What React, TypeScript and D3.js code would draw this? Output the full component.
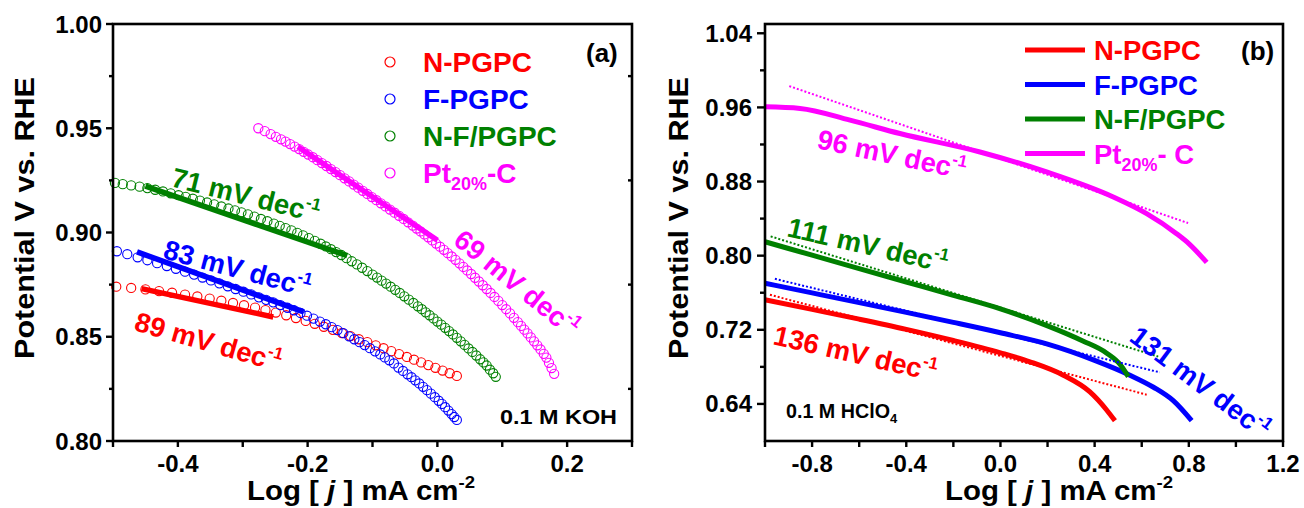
import React from "react";
import * as d3 from "d3";

const W = 1304;
const H = 508;
const FONT = "Arial, 'Liberation Sans', Helvetica, sans-serif";

const COLORS = ["#ff0000", "#0000ff", "#008000", "#ff00ff"];
const NAMES = ["N-PGPC", "F-PGPC", "N-F/PGPC"];

// ---------- Panel (a): 0.1 M KOH, Tafel data (open circles) ----------
const aNPGPC_x = [-0.495, -0.472, -0.45, -0.429, -0.409, -0.389, -0.37, -0.351, -0.333, -0.315, -0.298, -0.281, -0.265, -0.249, -0.233, -0.218, -0.203, -0.189, -0.175, -0.161, -0.147, -0.134, -0.121, -0.108, -0.095, -0.083, -0.071, -0.059, -0.047, -0.036, -0.025, -0.014, -0.003, 0.008, 0.019, 0.03];
const aNPGPC_y = [0.874, 0.8734, 0.8727, 0.8719, 0.8711, 0.8702, 0.8693, 0.8683, 0.8673, 0.8662, 0.8651, 0.864, 0.8628, 0.8616, 0.8603, 0.859, 0.8576, 0.8562, 0.8548, 0.8533, 0.8518, 0.8503, 0.8488, 0.8474, 0.8459, 0.8445, 0.8431, 0.8417, 0.8403, 0.839, 0.8377, 0.8364, 0.8351, 0.8338, 0.8325, 0.8312];

const aFPGPC_x = [-0.494, -0.478, -0.462, -0.447, -0.432, -0.417, -0.403, -0.389, -0.375, -0.362, -0.349, -0.336, -0.323, -0.311, -0.299, -0.287, -0.275, -0.264, -0.253, -0.242, -0.231, -0.221, -0.211, -0.201, -0.191, -0.181, -0.172, -0.163, -0.154, -0.145, -0.136, -0.128, -0.12, -0.112, -0.104, -0.096, -0.088, -0.081, -0.074, -0.067, -0.06, -0.053, -0.046, -0.04, -0.034, -0.028, -0.022, -0.016, -0.01, -0.004, 0.002, 0.007, 0.012, 0.017, 0.022, 0.026, 0.03];
const aFPGPC_y = [0.891, 0.8896, 0.8881, 0.8867, 0.8853, 0.8839, 0.8826, 0.8812, 0.8798, 0.8784, 0.877, 0.8756, 0.8742, 0.8729, 0.8716, 0.8703, 0.8689, 0.8677, 0.8665, 0.8652, 0.8639, 0.8627, 0.8614, 0.8601, 0.8587, 0.8573, 0.856, 0.8546, 0.8532, 0.8517, 0.8502, 0.8488, 0.8474, 0.846, 0.8445, 0.843, 0.8415, 0.8401, 0.8387, 0.8372, 0.8352, 0.8336, 0.832, 0.8306, 0.8291, 0.8276, 0.826, 0.8244, 0.8227, 0.821, 0.8193, 0.8178, 0.8162, 0.8146, 0.8129, 0.8115, 0.8101];

const aNFPGPC_x = [-0.497, -0.485, -0.472, -0.459, -0.447, -0.435, -0.423, -0.411, -0.399, -0.388, -0.377, -0.366, -0.355, -0.344, -0.333, -0.322, -0.312, -0.302, -0.292, -0.282, -0.272, -0.262, -0.252, -0.243, -0.234, -0.225, -0.216, -0.207, -0.198, -0.189, -0.18, -0.172, -0.164, -0.156, -0.148, -0.14, -0.132, -0.124, -0.116, -0.108, -0.1, -0.093, -0.086, -0.079, -0.072, -0.065, -0.058, -0.051, -0.044, -0.037, -0.03, -0.024, -0.018, -0.012, -0.006, 0.0, 0.006, 0.012, 0.018, 0.024, 0.03, 0.036, 0.042, 0.048, 0.054, 0.06, 0.066, 0.071, 0.076, 0.081, 0.086, 0.09];
const aNFPGPC_y = [0.9238, 0.9232, 0.9226, 0.922, 0.9213, 0.9205, 0.9197, 0.9188, 0.9179, 0.9171, 0.9162, 0.9153, 0.9144, 0.9135, 0.9125, 0.9115, 0.9106, 0.9097, 0.9087, 0.9076, 0.9065, 0.9054, 0.9043, 0.9032, 0.9021, 0.901, 0.8998, 0.8986, 0.8973, 0.896, 0.8946, 0.8933, 0.892, 0.8906, 0.8892, 0.8877, 0.8862, 0.8847, 0.8831, 0.8815, 0.8798, 0.8784, 0.8769, 0.8755, 0.874, 0.8725, 0.871, 0.8694, 0.8678, 0.8662, 0.8646, 0.8632, 0.8617, 0.8603, 0.8588, 0.8573, 0.8558, 0.8543, 0.8527, 0.8511, 0.8495, 0.8478, 0.8461, 0.8444, 0.8427, 0.841, 0.8392, 0.8377, 0.8362, 0.8342, 0.8325, 0.8308];

const aPt_x = [-0.276, -0.266, -0.257, -0.249, -0.241, -0.234, -0.227, -0.22, -0.213, -0.206, -0.199, -0.192, -0.185, -0.178, -0.171, -0.164, -0.157, -0.15, -0.143, -0.136, -0.129, -0.122, -0.115, -0.108, -0.101, -0.094, -0.087, -0.08, -0.073, -0.066, -0.059, -0.052, -0.045, -0.038, -0.032, -0.026, -0.02, -0.014, -0.008, -0.002, 0.004, 0.01, 0.016, 0.022, 0.028, 0.034, 0.04, 0.046, 0.052, 0.058, 0.064, 0.07, 0.076, 0.082, 0.088, 0.094, 0.1, 0.106, 0.112, 0.118, 0.124, 0.129, 0.134, 0.139, 0.144, 0.149, 0.154, 0.159, 0.164, 0.168, 0.172, 0.176, 0.18];
const aPt_y = [0.95, 0.9486, 0.9472, 0.9459, 0.9447, 0.9436, 0.9424, 0.9412, 0.94, 0.9387, 0.9374, 0.9361, 0.9347, 0.9333, 0.9319, 0.9304, 0.929, 0.9275, 0.926, 0.9245, 0.923, 0.9215, 0.92, 0.9185, 0.917, 0.9155, 0.914, 0.9125, 0.911, 0.9095, 0.908, 0.9065, 0.9049, 0.9033, 0.9019, 0.9005, 0.8991, 0.8977, 0.8962, 0.8947, 0.8932, 0.8917, 0.8901, 0.8885, 0.8869, 0.8852, 0.8835, 0.8818, 0.8801, 0.8783, 0.8765, 0.8747, 0.8729, 0.871, 0.8691, 0.8672, 0.8652, 0.8632, 0.8612, 0.8591, 0.857, 0.8552, 0.8534, 0.8516, 0.8497, 0.8478, 0.8459, 0.8439, 0.8418, 0.84, 0.8375, 0.835, 0.8322];

// Linear Tafel fits in panel (a): [start, end]
const aFitNPGPC_x = [-0.456, -0.253];
const aFitNPGPC_y = [0.8731, 0.8595];
const aFitFPGPC_x = [-0.463, -0.206];
const aFitFPGPC_y = [0.8907, 0.8619];
const aFitNFPGPC_x = [-0.45, -0.139];
const aFitNFPGPC_y = [0.9222, 0.8889];
const aFitPt_x = [-0.215, 0.0];
const aFitPt_y = [0.9411, 0.8963];

const aSlopes = [89, 83, 71, 69];
const aXTickLabels = [-0.4, -0.2, 0.0, 0.2];
const aYTickLabels = [0.8, 0.85, 0.9, 0.95, 1.0];

// ---------- Panel (b): 0.1 M HClO4, Tafel curves (solid) and fits (dotted) ----------
const bNPGPC_x = [-1.0, -0.8, -0.6, -0.4, -0.2, 0.0, 0.125, 0.267, 0.38, 0.451, 0.486];
const bNPGPC_y = [0.7524, 0.742, 0.7315, 0.7205, 0.7085, 0.6952, 0.6855, 0.671, 0.653, 0.6335, 0.6219];
const bFPGPC_x = [-1.0, -0.8, -0.6, -0.4, -0.2, 0.0, 0.2, 0.4, 0.55, 0.65, 0.734, 0.812];
const bFPGPC_y = [0.7703, 0.7598, 0.7493, 0.7388, 0.728, 0.7168, 0.7045, 0.687, 0.671, 0.658, 0.6435, 0.6219];
const bNFPGPC_x = [-1.0, -0.8, -0.6, -0.4, -0.2, 0.0, 0.2, 0.35, 0.45, 0.51, 0.543];
const bNFPGPC_y = [0.815, 0.8005, 0.786, 0.7716, 0.7572, 0.7426, 0.7243, 0.708, 0.695, 0.682, 0.6695];
const bPt_x = [-1.0, -0.851, -0.639, -0.427, -0.087, 0.196, 0.479, 0.621, 0.748, 0.8, 0.876];
const bPt_y = [0.9606, 0.9589, 0.9462, 0.9318, 0.9119, 0.8903, 0.8633, 0.8453, 0.8237, 0.813, 0.7927];

const bFitNPGPC_x = [-0.979, 0.621];
const bFitNPGPC_y = [0.7578, 0.65];
const bFitFPGPC_x = [-0.958, 0.677];
const bFitFPGPC_y = [0.775, 0.6741];
const bFitNFPGPC_x = [-0.976, 0.67];
const bFitNFPGPC_y = [0.8208, 0.6911];
const bFitPt_x = [-0.897, 0.797];
const bFitPt_y = [0.983, 0.8352];

const bSlopes = [136, 131, 111, 96];
const bXTickLabels = [-0.8, -0.4, 0.0, 0.4, 0.8, 1.2];
const bYTickLabels = [0.64, 0.72, 0.8, 0.88, 0.96, 1.04];

// ---------- scales ----------
const xA = d3.scaleLinear().domain([-0.5, 0.3]).range([113, 632]);
const yA = d3.scaleLinear().domain([0.8, 1.0]).range([441, 24]);
const xB = d3.scaleLinear().domain([-1.0, 1.2]).range([765, 1283]);
const yB = d3.scaleLinear().domain([0.6, 1.05]).range([441, 24]);

const pairs = (xs: number[], ys: number[]) => xs.map((x, i) => [x, ys[i]] as [number, number]);

function SlopeLabel({ x, y, angle, value, color }: { x: number; y: number; angle: number; value: number; color: string }) {
  return (
    <text
      transform={`translate(${x},${y}) rotate(${angle})`}
      fill={color}
      fontSize={27.5}
      fontWeight="bold"
      fontFamily={FONT}
    >
      {value} mV dec
      <tspan fontSize={17} dy={-12}>-1</tspan>
    </text>
  );
}

function Frame({ x, y }: { x: d3.ScaleLinear<number, number>; y: d3.ScaleLinear<number, number> }) {
  const [x0, x1] = x.range();
  const [y0, y1] = y.range();
  return (
    <rect x={x0} y={y1} width={x1 - x0} height={y0 - y1} fill="none" stroke="#000" strokeWidth={2.6} />
  );
}

function Circles({ xs, ys, color }: { xs: number[]; ys: number[]; color: string }) {
  return (
    <g>
      {xs.map((v, i) => (
        <circle key={i} cx={xA(v)} cy={yA(ys[i])} r={4.6} fill="none" stroke={color} strokeWidth={1.1} />
      ))}
    </g>
  );
}

function FitA({ xs, ys, color }: { xs: number[]; ys: number[]; color: string }) {
  return <line x1={xA(xs[0])} y1={yA(ys[0])} x2={xA(xs[1])} y2={yA(ys[1])} stroke={color} strokeWidth={5.5} />;
}

function FitB({ xs, ys, color }: { xs: number[]; ys: number[]; color: string }) {
  return (
    <line
      x1={xB(xs[0])}
      y1={yB(ys[0])}
      x2={xB(xs[1])}
      y2={yB(ys[1])}
      stroke={color}
      strokeWidth={2}
      strokeDasharray="2 2"
    />
  );
}

const curveB = d3
  .line<[number, number]>()
  .x((d) => xB(d[0]))
  .y((d) => yB(d[1]))
  .curve(d3.curveMonotoneX);

function XLabel({ cx, length }: { cx: number; length: number }) {
  return (
    <text
      x={cx}
      y={500}
      textAnchor="middle"
      fontSize={27}
      fontWeight="bold"
      fontFamily={FONT}
      textLength={length}
      lengthAdjust="spacingAndGlyphs"
    >
      Log [ <tspan fontStyle="italic">j</tspan> ] mA cm
      <tspan fontSize={17} dy={-12}>-2</tspan>
    </text>
  );
}

function YLabel({ x, cy }: { x: number; cy: number }) {
  return (
    <text
      transform={`translate(${x},${cy}) rotate(-90)`}
      textAnchor="middle"
      fontSize={27}
      fontWeight="bold"
      fontFamily={FONT}
      textLength={282}
      lengthAdjust="spacingAndGlyphs"
    >
      Potential V vs. RHE
    </text>
  );
}

export default function App() {
  // tick positions
  const aXTicks = d3.range(-0.5, 0.3001, 0.1);
  const aYMajor = aYTickLabels;
  const aYMinor = [0.825, 0.875, 0.925, 0.975];
  const bXTicks = d3.range(-1.0, 1.2001, 0.2);
  const bYMajor = bYTickLabels;
  const bYMinor = [0.68, 0.76, 0.84, 0.92, 1.0];

  const aCircleSets = [
    { xs: aNPGPC_x, ys: aNPGPC_y },
    { xs: aFPGPC_x, ys: aFPGPC_y },
    { xs: aNFPGPC_x, ys: aNFPGPC_y },
    { xs: aPt_x, ys: aPt_y },
  ];
  const aFits = [
    { xs: aFitNPGPC_x, ys: aFitNPGPC_y },
    { xs: aFitFPGPC_x, ys: aFitFPGPC_y },
    { xs: aFitNFPGPC_x, ys: aFitNFPGPC_y },
    { xs: aFitPt_x, ys: aFitPt_y },
  ];
  const bCurves = [
    pairs(bNPGPC_x, bNPGPC_y),
    pairs(bFPGPC_x, bFPGPC_y),
    pairs(bNFPGPC_x, bNFPGPC_y),
    pairs(bPt_x, bPt_y),
  ];
  const bFits = [
    { xs: bFitNPGPC_x, ys: bFitNPGPC_y },
    { xs: bFitFPGPC_x, ys: bFitFPGPC_y },
    { xs: bFitNFPGPC_x, ys: bFitNFPGPC_y },
    { xs: bFitPt_x, ys: bFitPt_y },
  ];

  const tickText = { fontSize: 24, fontWeight: "bold" as const, fontFamily: FONT };

  return (
    <svg width={W} height={H} style={{ position: "absolute", left: 0, top: 0, background: "#fff" }}>
      <rect width={W} height={H} fill="#fff" />

      {/* ================= Panel (a) ================= */}
      <g>
        {aCircleSets.map((s, i) => (
          <Circles key={i} xs={s.xs} ys={s.ys} color={COLORS[i]} />
        ))}
        {aFits.map((s, i) => (
          <FitA key={i} xs={s.xs} ys={s.ys} color={COLORS[i]} />
        ))}

        <Frame x={xA} y={yA} />

        {/* bottom ticks */}
        {aXTicks.map((t, i) => (
          <line key={i} x1={xA(t)} x2={xA(t)} y1={441} y2={447} stroke="#000" strokeWidth={2.4} />
        ))}
        {aXTickLabels.map((t, i) => (
          <text key={i} x={xA(t)} y={472} textAnchor="middle" {...tickText}>
            {t.toFixed(1)}
          </text>
        ))}
        {/* left ticks */}
        {aYMajor.map((t, i) => (
          <line key={i} x1={106} x2={113} y1={yA(t)} y2={yA(t)} stroke="#000" strokeWidth={2.4} />
        ))}
        {aYMinor.map((t, i) => (
          <line key={i} x1={109} x2={113} y1={yA(t)} y2={yA(t)} stroke="#000" strokeWidth={2.4} />
        ))}
        {/* right ticks (inward) */}
        {aYMinor.map((t, i) => (
          <line key={i} x1={628} x2={632} y1={yA(t)} y2={yA(t)} stroke="#000" strokeWidth={2.4} />
        ))}
        {aYTickLabels.map((t, i) => (
          <text key={i} x={102} y={yA(t) + 8.5} textAnchor="end" {...tickText}>
            {t.toFixed(2)}
          </text>
        ))}

        <YLabel x={34} cy={218} />
        <XLabel cx={361} length={228} />

        {/* legend */}
        {[0, 1, 2, 3].map((i) => (
          <circle key={i} cx={390} cy={62 + i * 37} r={5} fill="none" stroke={COLORS[i]} strokeWidth={1.2} />
        ))}
        {NAMES.map((n, i) => (
          <text key={i} x={423} y={72 + i * 37} fill={COLORS[i]} fontSize={28} fontWeight="bold" fontFamily={FONT}>
            {n}
          </text>
        ))}
        <text x={423} y={183} fill={COLORS[3]} fontSize={28} fontWeight="bold" fontFamily={FONT}>
          Pt
          <tspan fontSize={18} dy={7}>20%</tspan>
          <tspan dy={-7}>-C</tspan>
        </text>

        <text x={586} y={62} fontSize={26} fontWeight="bold" fontFamily={FONT}>
          (a)
        </text>
        <text x={500} y={424} fontSize={21} fontWeight="bold" fontFamily={FONT} textLength={117} lengthAdjust="spacingAndGlyphs">
          0.1 M KOH
        </text>

        <SlopeLabel x={133} y={330} angle={16} value={aSlopes[0]} color={COLORS[0]} />
        <SlopeLabel x={162} y={258} angle={15} value={aSlopes[1]} color={COLORS[1]} />
        <SlopeLabel x={170} y={186} angle={14} value={aSlopes[2]} color={COLORS[2]} />
        <SlopeLabel x={452} y={243} angle={39} value={aSlopes[3]} color={COLORS[3]} />
      </g>

      {/* ================= Panel (b) ================= */}
      <g>
        {bCurves.map((c, i) => (
          <path key={i} d={curveB(c) || ""} fill="none" stroke={COLORS[i]} strokeWidth={5} />
        ))}
        {bFits.map((s, i) => (
          <FitB key={i} xs={s.xs} ys={s.ys} color={COLORS[i]} />
        ))}

        <Frame x={xB} y={yB} />

        {bXTicks.map((t, i) => (
          <line key={i} x1={xB(t)} x2={xB(t)} y1={441} y2={447} stroke="#000" strokeWidth={2.4} />
        ))}
        {bXTickLabels.map((t, i) => (
          <text key={i} x={xB(t)} y={472} textAnchor="middle" {...tickText}>
            {t.toFixed(1)}
          </text>
        ))}
        {bYMajor.map((t, i) => (
          <line key={i} x1={757} x2={765} y1={yB(t)} y2={yB(t)} stroke="#000" strokeWidth={2.4} />
        ))}
        {bYMinor.map((t, i) => (
          <line key={i} x1={760} x2={765} y1={yB(t)} y2={yB(t)} stroke="#000" strokeWidth={2.4} />
        ))}
        {bYTickLabels.map((t, i) => (
          <text key={i} x={752} y={yB(t) + 8.5} textAnchor="end" {...tickText}>
            {t.toFixed(2)}
          </text>
        ))}

        <YLabel x={688} cy={218} />
        <XLabel cx={1059} length={228} />

        {/* legend */}
        {[0, 1, 2, 3].map((i) => (
          <line key={i} x1={1025} x2={1085} y1={50 + i * 34.5} y2={50 + i * 34.5} stroke={COLORS[i]} strokeWidth={5} />
        ))}
        {NAMES.map((n, i) => (
          <text key={i} x={1094} y={60 + i * 34.5} fill={COLORS[i]} fontSize={27.5} fontWeight="bold" fontFamily={FONT}>
            {n}
          </text>
        ))}
        <text x={1094} y={163.5} fill={COLORS[3]} fontSize={27.5} fontWeight="bold" fontFamily={FONT}>
          Pt
          <tspan fontSize={18} dy={7}>20%</tspan>
          <tspan dy={-7}>- C</tspan>
        </text>

        <text x={1241} y={60} fontSize={26} fontWeight="bold" fontFamily={FONT}>
          (b)
        </text>
        <text x={786} y={418} fontSize={19.5} fontWeight="bold" fontFamily={FONT}>
          <tspan textLength={104} lengthAdjust="spacingAndGlyphs">0.1 M HClO</tspan>
          <tspan fontSize={13} dy={5}>4</tspan>
        </text>

        <SlopeLabel x={772} y={344} angle={13} value={bSlopes[0]} color={COLORS[0]} />
        <SlopeLabel x={1128} y={340} angle={37} value={bSlopes[1]} color={COLORS[1]} />
        <SlopeLabel x={786} y={236} angle={13} value={bSlopes[2]} color={COLORS[2]} />
        <SlopeLabel x={816} y={148} angle={12} value={bSlopes[3]} color={COLORS[3]} />
      </g>
    </svg>
  );
}
